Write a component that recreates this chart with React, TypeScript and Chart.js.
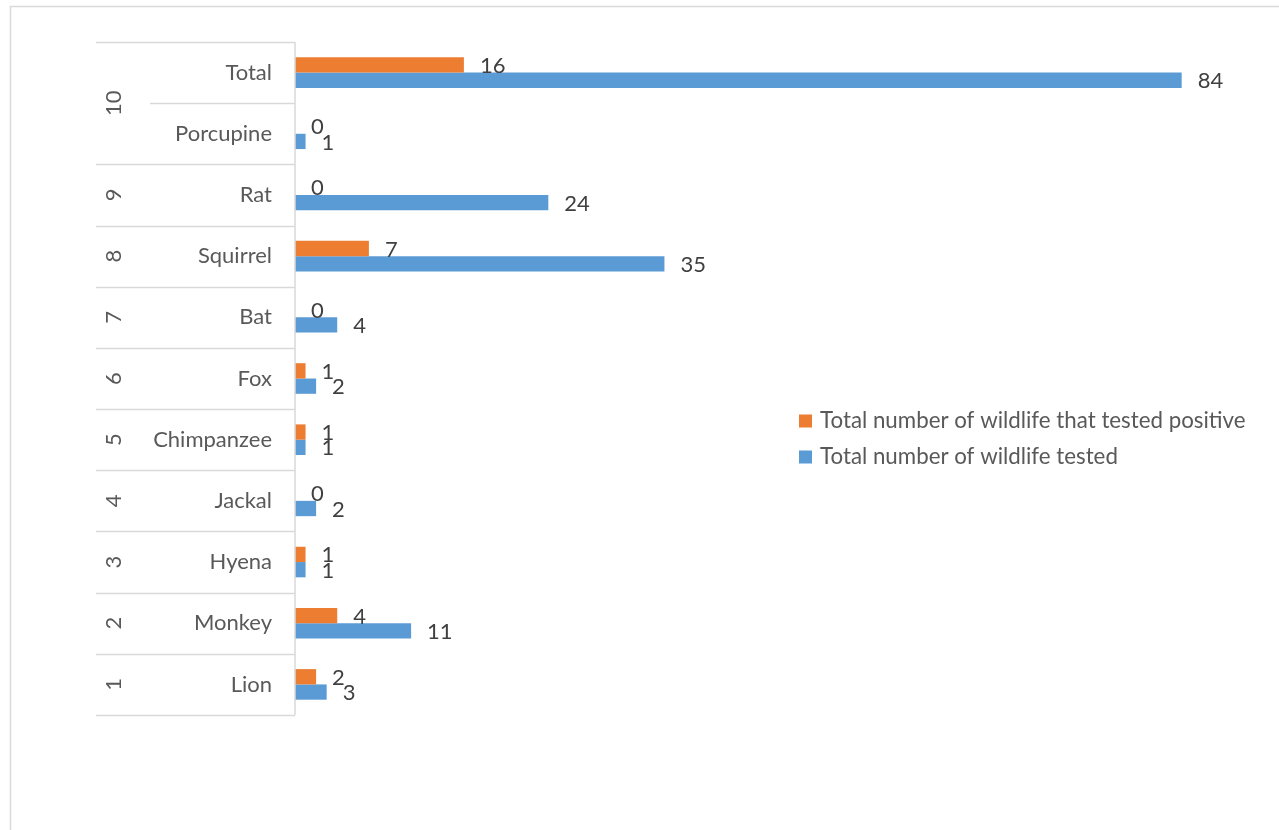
import React, { useEffect, useRef } from "react";
import { Chart, registerables } from "chart.js";

Chart.register(...registerables);

// Categories listed top to bottom
const categories = ["Total", "Porcupine", "Rat", "Squirrel", "Bat", "Fox", "Chimpanzee", "Jackal", "Hyena", "Monkey", "Lion"];
const groupLabels = ["10", "10", "9", "8", "7", "6", "5", "4", "3", "2", "1"];
const positiveValues = [16, 0, 0, 7, 0, 1, 1, 0, 1, 4, 2];
const testedValues = [84, 1, 24, 35, 4, 2, 1, 2, 1, 11, 3];
const seriesNames = ["Total number of wildlife that tested positive", "Total number of wildlife tested"];
const seriesColors = ["#ED7D31", "#5B9BD5"];

const FONT = "Lato, 'Open Sans', sans-serif";

const decorPlugin = {
  id: "decor",
  beforeDraw(chart: any) {
    const ctx = chart.ctx;
    ctx.save();
    ctx.strokeStyle = "#d9d9d9";
    ctx.lineWidth = 1.5;
    ctx.strokeRect(10.5, 6.5, 1400, 900);
    ctx.restore();
  },
  afterDatasetsDraw(chart: any) {
    const ctx = chart.ctx;
    const y = chart.scales.y;
    const area = chart.chartArea;
    const n = categories.length;
    ctx.save();
    // axis line
    ctx.strokeStyle = "#d9d9d9";
    ctx.lineWidth = 1.5;
    const top = y.getPixelForValue(-0.5);
    const bottom = y.getPixelForValue(n - 0.5);
    ctx.beginPath();
    ctx.moveTo(area.left, top);
    ctx.lineTo(area.left, bottom);
    ctx.stroke();
    // separators
    for (let i = -1; i < n; i++) {
      const py = Math.round(y.getPixelForValue(i + 0.5)) + 0.5;
      const same = i >= 0 && i < n - 1 && groupLabels[i] === groupLabels[i + 1];
      const x0 = same ? 150 : 96;
      ctx.beginPath();
      ctx.moveTo(x0, py);
      ctx.lineTo(area.left, py);
      ctx.stroke();
    }
    // inner labels
    ctx.fillStyle = "#595959";
    ctx.font = `22px ${FONT}`;
    ctx.textAlign = "right";
    ctx.textBaseline = "middle";
    for (let i = 0; i < n; i++) {
      ctx.fillText(categories[i], 272, y.getPixelForValue(i));
    }
    // outer labels
    let s = 0;
    while (s < n) {
      let e = s;
      while (e + 1 < n && groupLabels[e + 1] === groupLabels[s]) e++;
      const cy = (y.getPixelForValue(s) + y.getPixelForValue(e)) / 2;
      ctx.save();
      ctx.translate(114, cy);
      ctx.rotate(-Math.PI / 2);
      ctx.textAlign = "center";
      ctx.textBaseline = "middle";
      ctx.fillText(groupLabels[s], 0, 0);
      ctx.restore();
      s = e + 1;
    }
    // data labels
    ctx.fillStyle = "#404040";
    ctx.textAlign = "left";
    ctx.font = `22px ${FONT}`;
    chart.data.datasets.forEach((ds: any, di: number) => {
      const meta = chart.getDatasetMeta(di);
      meta.data.forEach((bar: any, i: number) => {
        ctx.fillText(String(ds.data[i]), bar.x + 16, bar.y + 1);
      });
    });
    // legend
    ctx.font = `22.3px ${FONT}`;
    chart.data.datasets.forEach((ds: any, di: number) => {
      const ly = 421 + di * 36;
      ctx.fillStyle = ds.backgroundColor;
      ctx.fillRect(799, ly - 6.5, 13, 13);
      ctx.fillStyle = "#595959";
      ctx.fillText(ds.label, 820, ly);
    });
    ctx.restore();
  },
};

export default function App() {
  const ref = useRef<HTMLCanvasElement>(null);
  useEffect(() => {
    const chart = new Chart(ref.current!, {
      type: "bar",
      data: {
        labels: categories,
        datasets: [
          { label: seriesNames[0], data: positiveValues, backgroundColor: seriesColors[0], categoryPercentage: 0.5, barPercentage: 1.0 },
          { label: seriesNames[1], data: testedValues, backgroundColor: seriesColors[1], categoryPercentage: 0.5, barPercentage: 1.0 },
        ],
      },
      options: {
        indexAxis: "y",
        responsive: false,
        animation: false,
        layout: { padding: { left: 295, right: 34, top: 42, bottom: 115 } },
        plugins: { legend: { display: false }, tooltip: { enabled: false } },
        scales: {
          x: { display: false, min: 0, max: 90 },
          y: { display: false },
        },
      },
      plugins: [decorPlugin],
    } as any);
    return () => chart.destroy();
  }, []);
  return (
    <div style={{ position: "fixed", left: 0, top: 0, width: 1279, height: 830, background: "#fff" }}>
      <canvas ref={ref} width={1279} height={830} style={{ width: 1279, height: 830 }} />
    </div>
  );
}
